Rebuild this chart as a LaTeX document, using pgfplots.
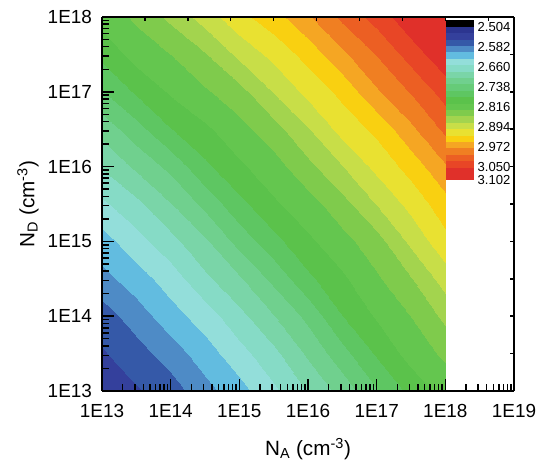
\documentclass[border=0pt]{standalone}
\usepackage{pgfplots}
\pgfplotsset{compat=1.18}
\usepackage{fontspec}
\setmainfont{Liberation Sans}
\definecolor{c0}{HTML}{000000}
\definecolor{c1}{HTML}{2C3590}
\definecolor{c2}{HTML}{34409C}
\definecolor{c3}{HTML}{3559A8}
\definecolor{c4}{HTML}{4E8BC6}
\definecolor{c5}{HTML}{62BCE0}
\definecolor{c6}{HTML}{93DEDA}
\definecolor{c7}{HTML}{86DBC6}
\definecolor{c8}{HTML}{7AD5A8}
\definecolor{c9}{HTML}{70D08E}
\definecolor{c10}{HTML}{66CB78}
\definecolor{c11}{HTML}{5EC662}
\definecolor{c12}{HTML}{5BC24B}
\definecolor{c13}{HTML}{64C64F}
\definecolor{c14}{HTML}{7FCB4C}
\definecolor{c15}{HTML}{A3D44E}
\definecolor{c16}{HTML}{C8DE48}
\definecolor{c17}{HTML}{E9E131}
\definecolor{c18}{HTML}{F9D011}
\definecolor{c19}{HTML}{F5A623}
\definecolor{c20}{HTML}{F07F22}
\definecolor{c21}{HTML}{EC5F23}
\definecolor{c22}{HTML}{E84626}
\definecolor{c23}{HTML}{E0302A}
\newcommand{\cbf}{\fontsize{9.8}{10}\selectfont}
\begin{document}
\begin{tikzpicture}
\begin{axis}[
  name=ax,
  view={0}{90},
  scale only axis,
  width=309pt, height=280.5pt,
  xmode=log, ymode=log,
  xmin=1e13, xmax=1e19, ymin=1e13, ymax=1e18,
  enlargelimits=false,
  axis on top,
  axis line style={line width=1.4pt},
  xtick={1e13,1e14,1e15,1e16,1e17,1e18,1e19},
  xticklabels={1E13,1E14,1E15,1E16,1E17,1E18,1E19},
  ytick={1e13,1e14,1e15,1e16,1e17,1e18},
  yticklabels={1E13,1E14,1E15,1E16,1E17,1E18},
  xtick pos=left, ytick pos=left,
  tick align=inside,
  major tick length=9pt, minor tick length=5pt,
  every tick/.style={black, line width=1.1pt},
  tick label style={font=\fontsize{14.2}{16}\selectfont},
  xticklabel style={yshift=-6.5pt},
  yticklabel style={xshift=-4pt},
  xlabel={N\textsubscript{A} (cm\textsuperscript{-3})},
  ylabel={N\textsubscript{D} (cm\textsuperscript{-3})},
  label style={font=\fontsize{15.5}{17}\selectfont},
  xlabel style={yshift=-8.5pt},
  ztick=\empty,
  colormap={bands}{color=(c0) color=(c1) color=(c2) color=(c3) color=(c4) color=(c5)
    color=(c6) color=(c7) color=(c8) color=(c9) color=(c10) color=(c11) color=(c12)
    color=(c13) color=(c14) color=(c15) color=(c16) color=(c17) color=(c18) color=(c19)
    color=(c20) color=(c21) color=(c22) color=(c23) color=(c23)},
  colormap access=piecewise constant,
  point meta min=2.478, point meta max=3.102,
  colorbar,
  colorbar shift/.style={},
  colorbar/width=21.2pt,
  colorbar style={
    at={(parent axis.north west)},
    anchor=north west,
    xshift=257.8pt, yshift=-2.25pt,
    xmode=normal, ymode=normal,
    scale only axis,
    width=21.2pt, height=120pt,
    y dir=reverse,
    ytick=\empty,
    major tick length=0pt,
    axis line style={draw=none},
    ytick style={draw=none},
  },
]
\addplot3[surf, shader=interp] table {
x y v
1e13 1e13 2.540
3.1623e13 1e13 2.550
1e14 1e13 2.566
3.1623e14 1e13 2.594
1e15 1e13 2.618
3.1623e15 1e13 2.648
1e16 1e13 2.680
3.1623e16 1e13 2.712
1e17 1e13 2.751
3.1623e17 1e13 2.785
1e18 1e13 2.812

1e13 3.1623e13 2.550
3.1623e13 3.1623e13 2.567
1e14 3.1623e13 2.590
3.1623e14 3.1623e13 2.616
1e15 3.1623e13 2.643
3.1623e15 3.1623e13 2.671
1e16 3.1623e13 2.707
3.1623e16 3.1623e13 2.743
1e17 3.1623e13 2.781
3.1623e17 3.1623e13 2.813
1e18 3.1623e13 2.832

1e13 1e14 2.566
3.1623e13 1e14 2.590
1e14 1e14 2.618
3.1623e14 1e14 2.640
1e15 1e14 2.670
3.1623e15 1e14 2.702
1e16 1e14 2.735
3.1623e16 1e14 2.777
1e17 1e14 2.806
3.1623e17 1e14 2.828
1e18 1e14 2.859

1e13 3.1623e14 2.594
3.1623e13 3.1623e14 2.616
1e14 3.1623e14 2.640
3.1623e14 3.1623e14 2.672
1e15 3.1623e14 2.699
3.1623e15 3.1623e14 2.735
1e16 3.1623e14 2.772
3.1623e16 3.1623e14 2.798
1e17 3.1623e14 2.824
3.1623e17 3.1623e14 2.851
1e18 3.1623e14 2.889

1e13 1e15 2.618
3.1623e13 1e15 2.643
1e14 1e15 2.670
3.1623e14 1e15 2.699
1e15 1e15 2.737
3.1623e15 1e15 2.770
1e16 1e15 2.798
3.1623e16 1e15 2.819
1e17 1e15 2.843
3.1623e17 1e15 2.884
1e18 1e15 2.920

1e13 3.1623e15 2.648
3.1623e13 3.1623e15 2.671
1e14 3.1623e15 2.702
3.1623e14 3.1623e15 2.735
1e15 3.1623e15 2.770
3.1623e15 3.1623e15 2.799
1e16 3.1623e15 2.817
3.1623e16 3.1623e15 2.843
1e17 3.1623e15 2.879
3.1623e17 3.1623e15 2.911
1e18 3.1623e15 2.942

1e13 1e16 2.680
3.1623e13 1e16 2.707
1e14 1e16 2.735
3.1623e14 1e16 2.772
1e15 1e16 2.798
3.1623e15 1e16 2.817
1e16 1e16 2.845
3.1623e16 1e16 2.876
1e17 1e16 2.910
3.1623e17 1e16 2.937
1e18 1e16 2.974

1e13 3.1623e16 2.712
3.1623e13 3.1623e16 2.743
1e14 3.1623e16 2.777
3.1623e14 3.1623e16 2.798
1e15 3.1623e16 2.819
3.1623e15 3.1623e16 2.843
1e16 3.1623e16 2.876
3.1623e16 3.1623e16 2.912
1e17 3.1623e16 2.934
3.1623e17 3.1623e16 2.972
1e18 3.1623e16 3.008

1e13 1e17 2.751
3.1623e13 1e17 2.781
1e14 1e17 2.806
3.1623e14 1e17 2.824
1e15 1e17 2.843
3.1623e15 1e17 2.879
1e16 1e17 2.910
3.1623e16 1e17 2.934
1e17 1e17 2.974
3.1623e17 1e17 3.004
1e18 1e17 3.038

1e13 3.1623e17 2.785
3.1623e13 3.1623e17 2.813
1e14 3.1623e17 2.828
3.1623e14 3.1623e17 2.851
1e15 3.1623e17 2.884
3.1623e15 3.1623e17 2.911
1e16 3.1623e17 2.937
3.1623e16 3.1623e17 2.972
1e17 3.1623e17 3.004
3.1623e17 3.1623e17 3.039
1e18 3.1623e17 3.071

1e13 1e18 2.812
3.1623e13 1e18 2.832
1e14 1e18 2.859
3.1623e14 1e18 2.889
1e15 1e18 2.920
3.1623e15 1e18 2.942
1e16 1e18 2.974
3.1623e16 1e18 3.008
1e17 1e18 3.038
3.1623e17 1e18 3.071
1e18 1e18 3.098
};
\end{axis}
\foreach \k in {1,...,9} \draw[line width=1.1pt] ([xshift=\k*32.19pt]ax.north west) -- ++(0,-3pt);
\foreach \k in {1,...,9} \draw[line width=1.1pt] ([yshift=-\k*28.05pt]ax.north east) -- ++(-3pt,0);
\foreach \lab/\k in {2.504/1,2.582/4,2.660/7,2.738/10,2.816/13,2.894/16,2.972/19,3.050/22,3.102/24}
  \node[anchor=west, inner sep=0pt, font=\cbf] at ([xshift=281.5pt,yshift=-2.25pt-\k*5pt]ax.north west) {\lab};
\pgfresetboundingbox
\path ([xshift=-76.5pt,yshift=-54pt]ax.south west) rectangle ([xshift=18.75pt,yshift=12.75pt]ax.north east);
\end{tikzpicture}
\end{document}
